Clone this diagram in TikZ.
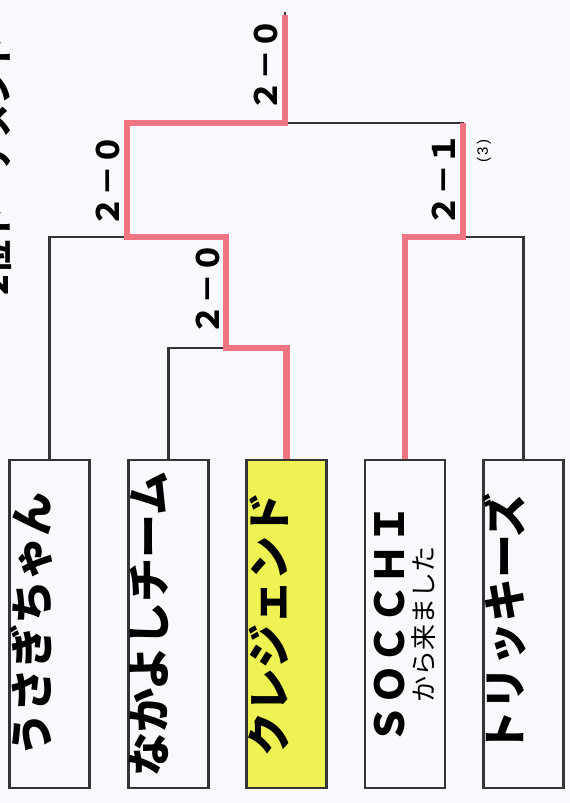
\documentclass[tikz,border=0pt]{standalone}
\usepackage{fontspec}
\setmainfont{Liberation Sans}
\newfontfamily\jpfont{Noto Sans CJK JP}
\usetikzlibrary{calc}
\definecolor{LineClr}{rgb}{0.2,0.2,0.22}
\definecolor{WinClr}{RGB}{240,116,130}
\definecolor{TeamClr}{RGB}{238,242,82}
\definecolor{PaperClr}{RGB}{248,249,252}

\begin{document}
\begin{tikzpicture}[x=1pt,y=-1pt,
  teambox/.style={draw=LineClr,line width=2.2pt,minimum width=80pt,minimum height=328pt,inner sep=0pt},
  teamtxt/.style={rotate=90,inner sep=0pt,font=\jpfont\bfseries\fontsize{44}{44}\selectfont},
  scoretxt/.style={rotate=90,inner sep=0pt,font=\jpfont\bfseries\fontsize{31}{31}\selectfont},
  bk/.style={draw=LineClr,line width=2.2pt},
  pk/.style={draw=WinClr,line width=6.5pt}]
\fill[PaperClr] (0,0) rectangle (570,803);
\useasboundingbox (0,0) rectangle (570,803);

\node[rotate=90,inner sep=0pt,font=\jpfont\bfseries\fontsize{34}{34}\selectfont] (title) at (-4,166) {2位トーナメント};

% teams
\node[teambox] (usagi) at (49.5,624) {};
\node[teambox] (nakayoshi) at (168.5,624) {};
\node[teambox,fill=TeamClr] (kurejendo) at (286.5,624) {};
\node[teambox] (socchi) at (405,624) {};
\node[teambox] (torikki) at (523.5,624) {};

\node[teamtxt] (usagitxt) at ([xshift=23pt]usagi.west) {うさぎちゃん};
\node[teamtxt] (nakayoshitxt) at ([xshift=22pt]nakayoshi.west) {なかよしチーム};
\node[teamtxt] (kurejendotxt) at ([xshift=23pt]kurejendo.west) {クレジェンド};
\node[teamtxt,font=\jpfont\bfseries\fontsize{40}{40}\selectfont] (socchitxt) at ([xshift=26pt]socchi.west) {ＳＯＣＣＨＩ};
\node[teamtxt,font=\jpfont\fontsize{26}{26}\selectfont] (socchisub) at ([xshift=60pt]socchi.west) {から来ました};
\node[teamtxt] (torikkitxt) at ([xshift=22pt]torikki.west) {トリッキーズ};

% bracket
\coordinate (m1) at (226,348);
\coordinate (m2) at (127,237);
\coordinate (m3) at (463,237);
\coordinate (m4) at (285,123);
\coordinate (top) at (285,12);

\draw[bk] (nakayoshi.north) |- (m1) -| (kurejendo.north);
\draw[bk] (usagi.north) |- (m1 |- m2) -- (m1);
\draw[bk] (socchi.north) |- (m3) -| (torikki.north);
\draw[bk] (m2) |- (m4) -| (m3);
\draw[bk] (m4) -- (top);

\draw[pk] (kurejendo.north) |- (m1) |- (m2) |- (m4) -- ([yshift=-3pt]top);
\draw[pk] (socchi.north) |- (m3) -- (m3 |- m4);

% scores
\node[scoretxt] (s1) at (208,289) {２－０};
\node[scoretxt] (s2) at (108,181) {２－０};
\node[scoretxt] (s3) at (444,180) {２－１};
\node[rotate=90,inner sep=0pt,font=\fontsize{15}{15}\selectfont] (s3note) at (484,151) {(\,3\,)};
\node[scoretxt] (s4) at (266,65) {２－０};
\end{tikzpicture}
\end{document}
